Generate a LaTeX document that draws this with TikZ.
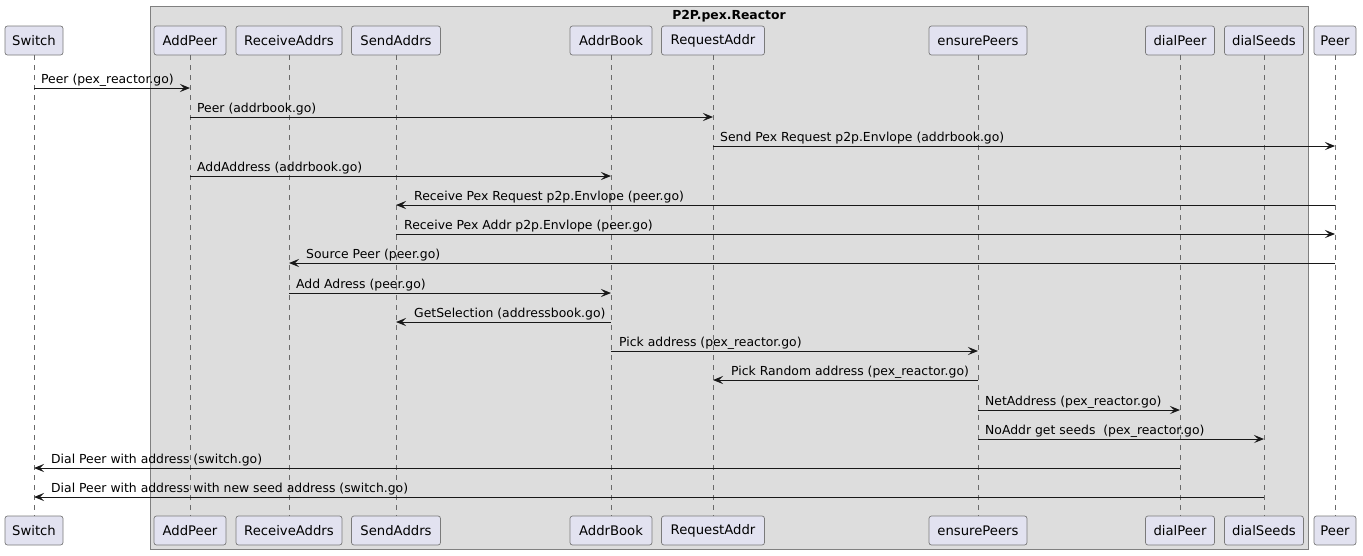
\documentclass[tikz,border=0pt]{standalone}
\usepackage{fontspec}
\setmainfont{DejaVu Sans}
\usetikzlibrary{arrows.meta}
\definecolor{partfill}{HTML}{E2E2F0}
\definecolor{partline}{HTML}{7A7A7A}
\definecolor{grpfill}{HTML}{DDDDDD}
\definecolor{grpline}{HTML}{808080}
\definecolor{lifecol}{HTML}{6A6A6A}
\definecolor{msgcol}{HTML}{181818}
\tikzset{
  part/.style={draw=partline, fill=partfill, line width=0.7pt, rounded corners=2.5pt,
    minimum height=29pt, inner sep=0pt, font=\fontsize{13.2}{16}\selectfont, text=black},
  life/.style={draw=lifecol, line width=0.6pt, dash pattern=on 5pt off 5pt},
  msg/.style={draw=msgcol, line width=1pt, -{Stealth[length=10pt,width=8pt,inset=4pt]}},
  lbl/.style={font=\fontsize{12.4}{15}\selectfont, inner sep=0pt, anchor=base west, text=black},
  grp/.style={draw=grpline, fill=grpfill, line width=0.8pt}
}
\begin{document}
\begin{tikzpicture}[x=1pt,y=-1pt]
\useasboundingbox (0,0) rectangle (1363,555);
\fill[white] (0,0) rectangle (1363,555);
% group box
\draw[grp] (150,6) rectangle (1308,549);
\node[font=\bfseries\fontsize{12.4}{15}\selectfont, anchor=base] (gtitle) at (729,19.5) {P2P.pex.Reactor};
% participants (top and bottom)
\foreach \n/\x/\w/\t in {sw/34/58/Switch, ap/190/72/AddPeer, ra/289/106/ReceiveAddrs,
  sa/396/89/SendAddrs, ab/611/82/AddrBook, rq/713/103/RequestAddr, ep/978/98/ensurePeers,
  dp/1180/69/dialPeer, ds/1264/79/dialSeeds, pr/1335/42/Peer} {
  \node[part, minimum width=\w pt] (\n-top) at (\x,40.5) {\t};
  \node[part, minimum width=\w pt] (\n-bot) at (\x,530.5) {\t};
  \draw[life] (\n-top.south) -- (\n-bot.north);
}
% messages
\draw[msg] (sw-top.south |- 0,88) -- (ap-top.south |- 0,88);
\node[lbl] (l1) at (41,83) {Peer (pex\_reactor.go)};
\draw[msg] (ap-top.south |- 0,117) -- (rq-top.south |- 0,117);
\node[lbl] (l2) at (197,112) {Peer (addrbook.go)};
\draw[msg] (rq-top.south |- 0,146) -- (pr-top.south |- 0,146);
\node[lbl] (l3) at (720,141) {Send Pex Request p2p.Envlope (addrbook.go)};
\draw[msg] (ap-top.south |- 0,176) -- (ab-top.south |- 0,176);
\node[lbl] (l4) at (197,171) {AddAddress (addrbook.go)};
\draw[msg] (pr-top.south |- 0,205) -- (sa-top.south |- 0,205);
\node[lbl] (l5) at (414,200) {Receive Pex Request p2p.Envlope (peer.go)};
\draw[msg] (sa-top.south |- 0,234) -- (pr-top.south |- 0,234);
\node[lbl] (l6) at (404,229) {Receive Pex Addr p2p.Envlope (peer.go)};
\draw[msg] (pr-top.south |- 0,263) -- (ra-top.south |- 0,263);
\node[lbl] (l7) at (306,258) {Source Peer (peer.go)};
\draw[msg] (ra-top.south |- 0,293) -- (ab-top.south |- 0,293);
\node[lbl] (l8) at (296,288) {Add Adress (peer.go)};
\draw[msg] (ab-top.south |- 0,322) -- (sa-top.south |- 0,322);
\node[lbl] (l9) at (414,317) {GetSelection (addressbook.go)};
\draw[msg] (ab-top.south |- 0,351) -- (ep-top.south |- 0,351);
\node[lbl] (l10) at (619,346) {Pick address (pex\_reactor.go)};
\draw[msg] (ep-top.south |- 0,380) -- (rq-top.south |- 0,380);
\node[lbl] (l11) at (731,375) {Pick Random address (pex\_reactor.go)};
\draw[msg] (ep-top.south |- 0,410) -- (dp-top.south |- 0,410);
\node[lbl] (l12) at (985,405) {NetAddress (pex\_reactor.go)};
\draw[msg] (ep-top.south |- 0,439) -- (ds-top.south |- 0,439);
\node[lbl] (l13) at (985,434) {NoAddr get seeds\ \ (pex\_reactor.go)};
\draw[msg] (dp-top.south |- 0,468) -- (sw-top.south |- 0,468);
\node[lbl] (l14) at (51,463) {Dial Peer with address (switch.go)};
\draw[msg] (ds-top.south |- 0,497) -- (sw-top.south |- 0,497);
\node[lbl] (l15) at (51,492) {Dial Peer with address with new seed address (switch.go)};
\end{tikzpicture}
\end{document}
